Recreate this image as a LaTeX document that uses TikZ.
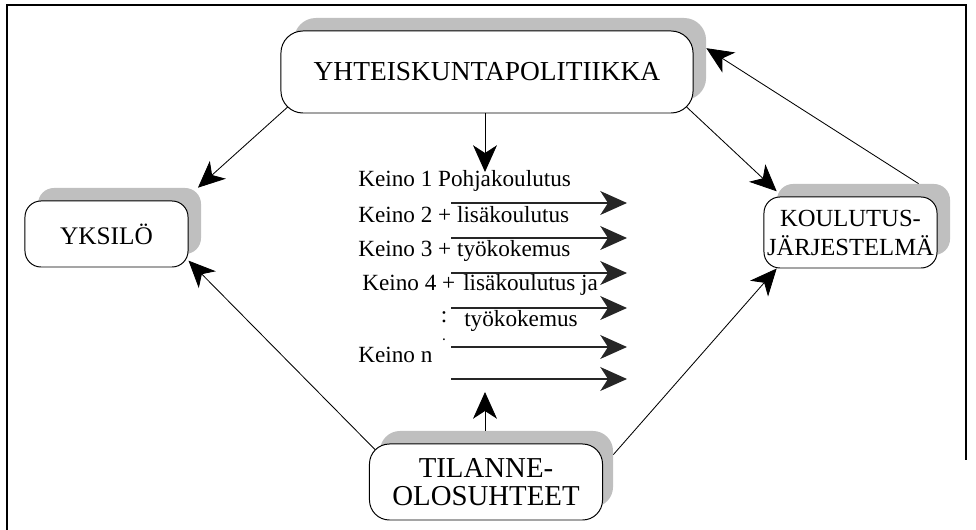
\documentclass[tikz,border=0pt]{standalone}
\usepackage{fontspec}
\setmainfont{Liberation Serif}
\usetikzlibrary{arrows.meta,backgrounds}

\begin{document}
\begin{tikzpicture}[x=0.025cm, y=-0.025cm,
  panel/.style={draw, fill=white, line width=0.7pt, rounded corners=#1,
    inner sep=0pt, align=center},
  panel/.default=0.4cm,
  backdrop/.style={fill=cShade, rounded corners=#1, inner sep=0pt},
  backdrop/.default=0.4cm,
  relarrow/.style={-{Stealth[length=19pt, width=17pt, inset=5.5pt]}, line width=0.6pt},
  means/.style={font=\fontsize{16.5}{19}\selectfont, anchor=base west, inner sep=0pt}]

\colorlet{cShade}{black!25}

%% Geometry: one unit is one pixel of the 976 x 530 sheet, y runs downwards.
\useasboundingbox (0,0) rectangle (976,530);

%% ---------- sheet frame ----------
\draw[line width=1.4pt] (7,530) -- (7,5) -- (966,5) -- (966,460);

%% ---------- shadows, then the four boxes ----------
\node[backdrop=0.55cm, minimum width=10.3cm, minimum height=2.05cm] (ykpS) at (500,59) {};
\node[panel=0.55cm, minimum width=10.3cm, minimum height=2.05cm,
  font=\fontsize{19.5}{22}\selectfont] (ykp) at (487,72) {YHTEISKUNTAPOLITIIKKA};

\node[backdrop, minimum width=4.075cm, minimum height=1.65cm] (yksiloS) at (119.5,221) {};
\node[panel, minimum width=4.075cm, minimum height=1.65cm,
  font=\fontsize{18}{20}\selectfont] (yksilo) at (106.5,234) {YKSILÖ};

\node[backdrop, minimum width=4.325cm, minimum height=1.775cm] (koulutusS) at (863.5,219.5) {};
\node[panel, minimum width=4.325cm, minimum height=1.775cm,
  font=\fontsize{17.5}{20.6}\selectfont] (koulutus) at (850.5,232.5) {KOULUTUS-\\JÄRJESTELMÄ};

\node[backdrop=0.5cm, minimum width=5.825cm, minimum height=1.9cm] (tilanneS) at (496.5,469) {};
\node[panel=0.5cm, minimum width=5.825cm, minimum height=1.9cm,
  font=\fontsize{20.5}{19.5}\selectfont] (tilanne) at (486,482) {TILANNE-\\OLOSUHTEET};

%% ---------- the means, one arrow per row ----------
\node[means] (k1) at (358,187) {Keino 1 Pohjakoulutus};
\node[means] (k2) at (358,223) {Keino 2 + lisäkoulutus};
\node[means] (k3) at (358,257) {Keino 3 + työkokemus};
\node[means] (k4a) at (362,291) {Keino 4 +};
\node[means] (k4b) at (463,291) {lisäkoulutus ja};
\node[means] (k4c) at (464,327) {työkokemus};
\node[means, anchor=center] (kdots) at (444,317) {:};
\node[means, anchor=center, font=\fontsize{8}{8}\bfseries] (kdot) at (444,340) {.};
\node[means] (kn) at (358,363) {Keino n};

\foreach \y [count=\i] in {203,238,273,308,347,379} {
  \coordinate (m\i w) at (451,\y);
  \coordinate (m\i e) at (627,\y);
  \draw[relarrow, line width=0.9pt, black!85] (m\i w) -- (m\i e);
}

%% ---------- into and out of the list ----------
\coordinate (mtop) at (485,172);
\coordinate (mbot) at (485,392);
\draw[relarrow] (ykp.south -| mtop) -- (mtop);
\draw[relarrow] (tilanneS.north -| mbot) -- (mbot);

%% ---------- links between the boxes (starts hidden under the boxes) ----------
\begin{scope}[on background layer]
  \draw[relarrow, shorten <=-10pt] (ykp.south west) -- (yksiloS.23);
  \draw[relarrow, shorten <=-10pt] (ykp.south east) -- (koulutusS.162);
  \draw[relarrow] (koulutusS.33) -- (ykpS.3);
  \draw[relarrow, shorten <=-10pt] (tilanne.north west) -- (yksilo.-18);
  \draw[relarrow] (tilanneS.7) -- (koulutus.206);
\end{scope}

\end{tikzpicture}
\end{document}
